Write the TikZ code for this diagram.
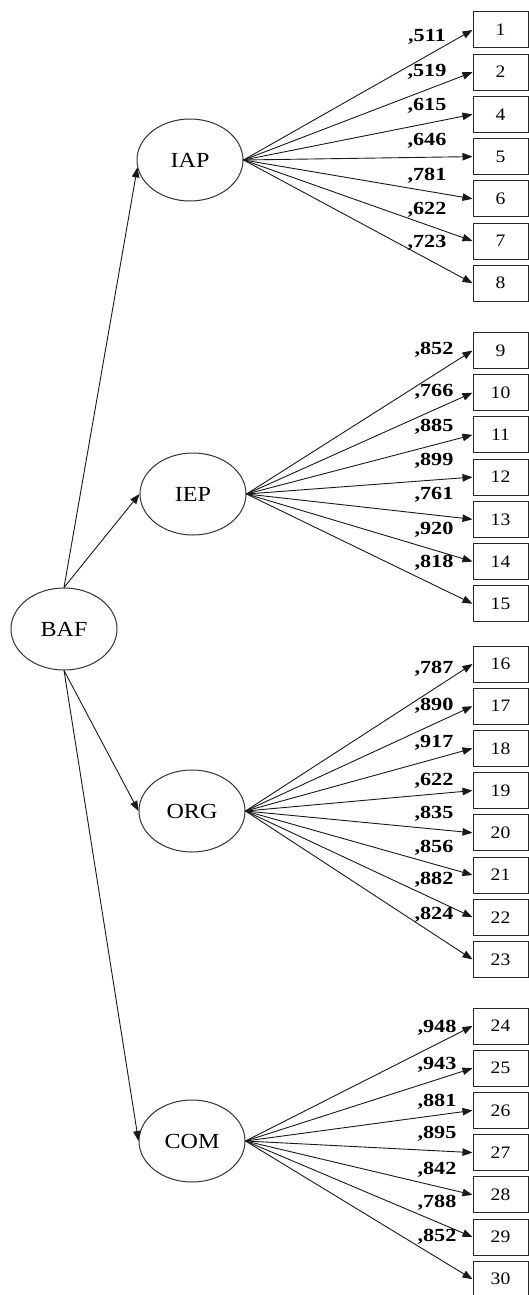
\documentclass[tikz,border=0pt]{standalone}
\usepackage{fontspec}
\setmainfont{Liberation Serif}
\newfontfamily\numfont[FakeStretch=1.12]{Liberation Serif}
\newfontfamily\wtfont[FakeStretch=1.2]{Liberation Serif}
\usetikzlibrary{shapes.geometric,arrows.meta}

\begin{document}
\begin{tikzpicture}[x=1pt,y=-1pt,
  latent/.style={ellipse,draw=black!80,line width=1pt,minimum width=106pt,minimum height=82pt,inner sep=0pt,
    font=\numfont\fontsize{21.5}{21.5}\selectfont},
  item/.style={rectangle,draw=black!85,line width=1pt,minimum width=55pt,minimum height=36pt,inner sep=0pt,
    font=\numfont\fontsize{17.5}{17.5}\selectfont},
  load/.style={inner sep=0pt,font=\wtfont\bfseries\fontsize{18.5}{18.5}\selectfont},
  regpath/.style={draw=black!90,line width=0.9pt,-{Triangle[length=10pt,width=7.5pt]}}]

\useasboundingbox (0,0) rectangle (529,1295);

% latent factors
\node[latent] (BAF) at (64,629) {BAF};
\node[latent] (IAP) at (190,160) {IAP};
\node[latent] (IEP) at (193,494) {IEP};
\node[latent] (ORG) at (192,811) {ORG};
\node[latent] (COM) at (192,1141) {COM};

% observed items
\foreach \n/\y in {1/30,2/72.2,4/114.4,5/156.6,6/198.8,7/241.0,8/283.2,
                   9/350.5,10/392.7,11/434.9,12/477.1,13/519.3,14/561.5,15/603.7,
                   16/664,17/706.2,18/748.4,19/790.6,20/832.8,21/875.0,22/917.2,23/959.4,
                   24/1026,25/1068.2,26/1110.4,27/1152.6,28/1194.8,29/1237.0,30/1279.2}
  \node[item] (b\n) at (500.5,\y) {\n};

% second-order paths
\draw[regpath] (BAF.north) -- (IAP.188);
\draw[regpath] (BAF.north) -- (IEP.west);
\draw[regpath] (BAF.south) -- (ORG.west);
\draw[regpath] (BAF.south) -- (COM.west);

% first-order paths
\foreach \n in {1,2,4,5,6,7,8} \draw[regpath] (IAP.east) -- (b\n.west);
\foreach \n in {9,...,15} \draw[regpath] (IEP.east) -- (b\n.west);
\foreach \n in {16,...,23} \draw[regpath] (ORG.east) -- (b\n.west);
\foreach \n in {24,...,30} \draw[regpath] (COM.east) -- (b\n.west);

% loadings
\foreach \t/\y [count=\i] in {511/37,519/72,615/106,646/141,781/176,622/210,723/243}
  \node[load] (wiap\i) at (427,\y) {,\t};
\foreach \t/\y [count=\i] in {852/350,766/392,885/427,899/461,761/495,920/530,818/563}
  \node[load] (wiep\i) at (434,\y) {,\t};
\foreach \t/\y [count=\i] in {787/669,890/706,917/743,622/781,835/814,856/848,882/880,824/915}
  \node[load] (worg\i) at (434,\y) {,\t};
\foreach \t/\y [count=\i] in {948/1028,943/1065,881/1102,895/1134,842/1170,788/1203,852/1237}
  \node[load] (wcom\i) at (437,\y) {,\t};
\end{tikzpicture}
\end{document}
